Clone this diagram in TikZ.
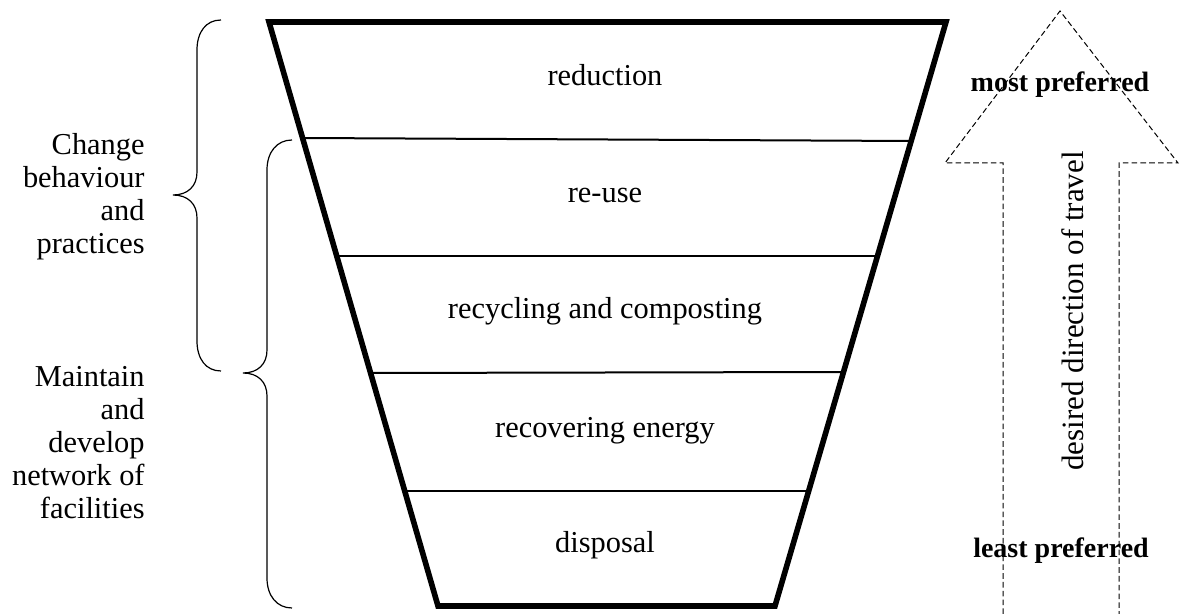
\documentclass[tikz,border=0pt]{standalone}
\usepackage{fontspec}
\setmainfont{Liberation Serif}
\begin{document}
\begin{tikzpicture}[x=0.5pt,y=-0.5pt,
  funnel/.style={line width=2.8pt,line join=miter},
  tier/.style={line width=1pt},
  bracepath/.style={line width=0.6pt},
  arrowoutline/.style={line width=0.5pt,dash pattern=on 2.8pt off 1.6pt},
  tiertext/.style={inner sep=0pt,anchor=base,font=\fontsize{15.2pt}{16.5pt}\selectfont},
  sidetext/.style={inner sep=0pt,anchor=base east,align=right,font=\fontsize{15.2pt}{16.5pt}\selectfont},
  preftext/.style={inner sep=0pt,anchor=base,font=\fontsize{14pt}{16pt}\selectfont\bfseries}]
\useasboundingbox (0,0) rectangle (1180,614);
% funnel
\coordinate (TL) at (269,22);
\coordinate (TR) at (946,22);
\coordinate (BR) at (775,606);
\coordinate (BL) at (438,606);
\draw[funnel] (TL) -- (TR) -- (BR) -- (BL) -- cycle;
\coordinate (a1) at (302.6,138); \coordinate (b1) at (911.2,141);
\coordinate (a2) at (336.7,256); \coordinate (b2) at (877.5,256);
\coordinate (a3) at (370.6,373); \coordinate (b3) at (843.5,372);
\coordinate (a4) at (404.7,491); \coordinate (b4) at (808.7,491);
\draw[tier] (a1) -- (b1);
\draw[tier] (a2) -- (b2);
\draw[tier] (a3) -- (b3);
\draw[tier] (a4) -- (b4);
\node[tiertext] (t1) at (605,86) {reduction};
\node[tiertext] (t2) at (605,203) {re-use};
\node[tiertext] (t3) at (605,319) {recycling and composting};
\node[tiertext] (t4) at (605,438) {recovering energy};
\node[tiertext] (t5) at (605,553) {disposal};
% braces
\draw[bracepath] (221,20) .. controls (206,20) and (197,32) .. (197,50) -- (197,172)
  .. controls (197,186) and (188,195) .. (173,195)
  .. controls (188,195) and (197,204) .. (197,218) -- (197,341)
  .. controls (197,359) and (206,371) .. (221,371);
\draw[bracepath] (292,140) .. controls (277,140) and (267,152) .. (267,170) -- (267,350)
  .. controls (267,364) and (258,373) .. (243,373)
  .. controls (258,373) and (267,382) .. (267,396) -- (267,578)
  .. controls (267,596) and (277,608) .. (292,608);
\node[sidetext] (g1) at (145,254) {Change\\behaviour\\and\\practices};
\node[sidetext] (g2) at (145,519) {Maintain\\and\\develop\\network of\\facilities};
% arrow
\coordinate (tip) at (1060,11);
\draw[arrowoutline] (1003,614) -- (1003,163) -- (945,163) -- (tip) -- (1178,163) -- (1119,163) -- (1119,614);
\node[preftext] (mp) at (1060,92) {most preferred};
\node[preftext] (lp) at (1061,558) {least preferred};
\node[inner sep=0pt,anchor=base,rotate=90,font=\fontsize{15.5pt}{17pt}\selectfont] (dir) at (1083,311) {desired direction of travel};
\end{tikzpicture}
\end{document}
